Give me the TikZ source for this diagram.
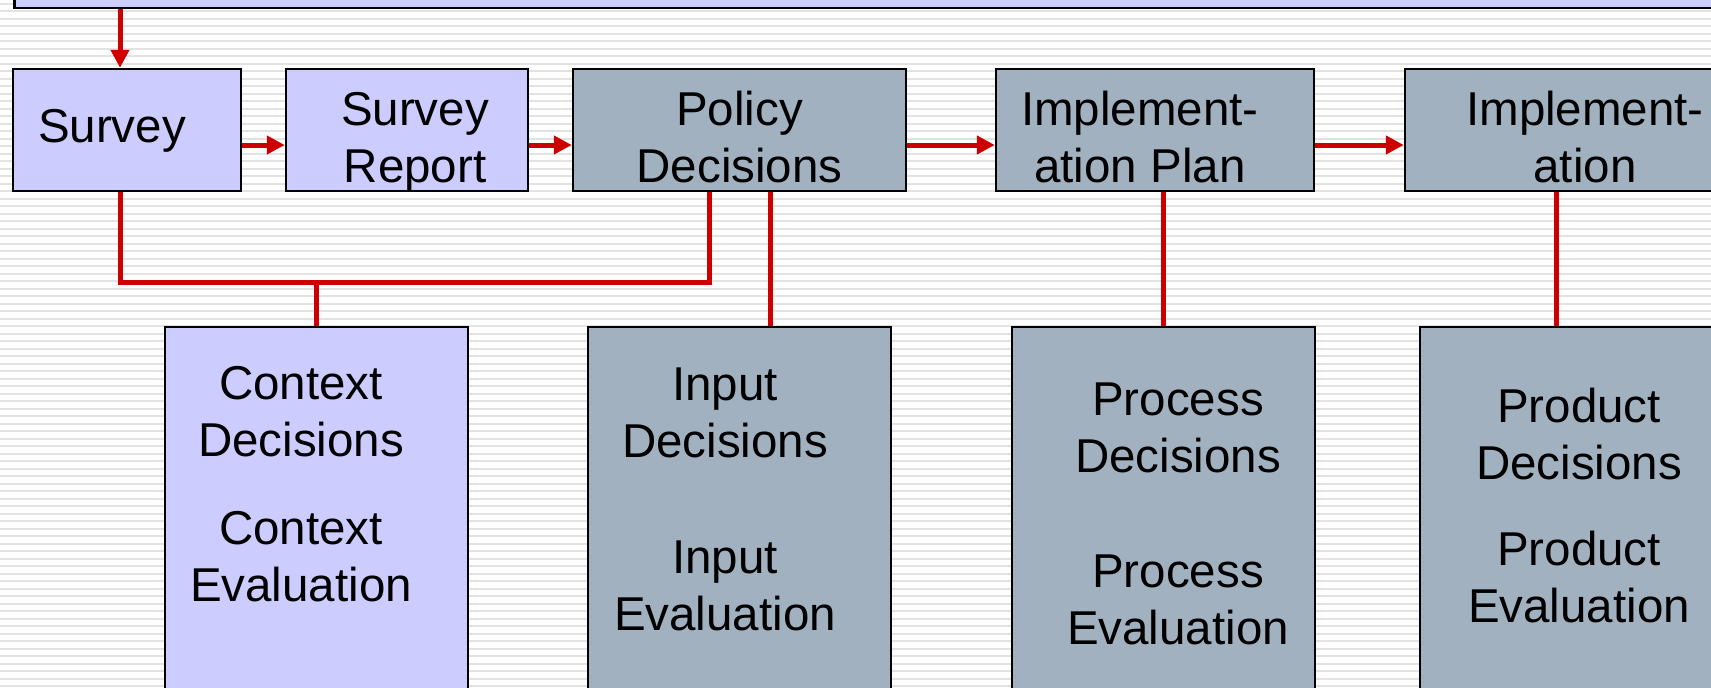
\documentclass[tikz,border=0pt]{standalone}
\usepackage{fontspec}
\setmainfont{Liberation Sans}
\usetikzlibrary{positioning,arrows.meta}
\definecolor{lav}{RGB}{204,204,255}
\definecolor{slate}{RGB}{162,177,192}
\definecolor{flowred}{RGB}{204,0,0}
\definecolor{stripe}{RGB}{226,226,226}
\newcommand\lbl[4]{\hspace*{#1}\parbox[t]{#2}{\centering #4}\hspace*{#3}}

\begin{document}
\begin{tikzpicture}[x=1pt,y=-1pt,on grid,
  every node/.style={font=\fontsize{47.5}{57}\selectfont},
  stage/.style={draw=black,line width=2.5pt,inner sep=0pt,text height=56pt,text depth=66pt},
  evalbox/.style={draw=black,line width=2.5pt,inner sep=0pt,fill=slate},
  flow/.style={draw=flowred,line width=5pt},
  arr/.style={flow,-{Triangle[length=18pt,width=18pt]}}]
  \useasboundingbox (0,0) rectangle (1711,688);
  \fill[white] (0,0) rectangle (1711,688);
  \foreach \k in {0,...,91}
    \draw[stripe,line width=2pt] (0,{3.5+7.5*\k}) -- (1711,{3.5+7.5*\k});

  % top row
  \node[draw=black,line width=2.5pt,fill=lav,minimum width=1800pt,minimum height=80pt,anchor=south west] (banner) at (13,9) {};
  \node[stage,fill=lav,text height=73pt,text depth=49pt] (survey) at (127,130) {\lbl{0pt}{198pt}{30pt}{Survey}};
  \node[stage,fill=lav,right=280pt of survey] (report) {\lbl{16pt}{226pt}{0pt}{Survey\\Report}};
  \node[stage,fill=slate,right=332.5pt of report] (policy) {\lbl{0pt}{333pt}{0pt}{Policy\\Decisions}};
  \node[stage,fill=slate,right=415.5pt of policy] (plan) {\lbl{0pt}{288pt}{30pt}{Implement-\\ation Plan}};
  \node[stage,fill=slate,right=430pt of plan] (impl) {\lbl{0pt}{360pt}{0pt}{Implement-\\ation}};

  % bottom row
  \node[evalbox,fill=lav,text height=72pt,text depth=321pt] (context) at (316.5,523.5)
    {\lbl{0pt}{272pt}{31pt}{Context\\Decisions\\[31pt]Context\\Evaluation}};
  \node[evalbox,text height=73pt,text depth=320pt,right=423pt of context] (input)
    {\lbl{0pt}{274pt}{29pt}{Input\\Decisions\\[59pt]Input\\Evaluation}};
  \node[evalbox,text height=88pt,text depth=305pt,right=424pt of input] (process)
    {\lbl{29pt}{274pt}{0pt}{Process\\Decisions\\[58pt]Process\\Evaluation}};
  \node[evalbox,text height=95pt,text depth=298pt,right=408pt of process] (product)
    {\lbl{15pt}{288pt}{0pt}{Product\\Decisions\\[29pt]Product\\Evaluation}};

  \coordinate (busS) at (120,282);
  \coordinate (busP) at (709,282);

  \draw[arr] (banner.south -| busS) -- (survey.north -| busS);
  \draw[arr] ([yshift=-15pt]survey.east) -- ([yshift=-15pt]report.west);
  \draw[arr] ([yshift=-15pt]report.east) -- ([yshift=-15pt]policy.west);
  \draw[arr] ([yshift=-15pt]policy.east) -- ([yshift=-15pt]plan.west);
  \draw[arr] ([yshift=-15pt]plan.east) -- ([yshift=-15pt]impl.west);

  \draw[flow] (survey.south -| busS) -- (busS) -- (busP) -- (policy.south -| busP);
  \draw[flow] (context.north) -- (context.north |- busS);
  \draw[flow] ([xshift=30.5pt]input.north) -- ([xshift=30.5pt]input.north |- policy.south);
  \draw[flow] (process.north) -- (process.north |- plan.south);
  \draw[flow] ([xshift=-15.5pt]product.north) -- ([xshift=-15.5pt]product.north |- impl.south);
\end{tikzpicture}
\end{document}
